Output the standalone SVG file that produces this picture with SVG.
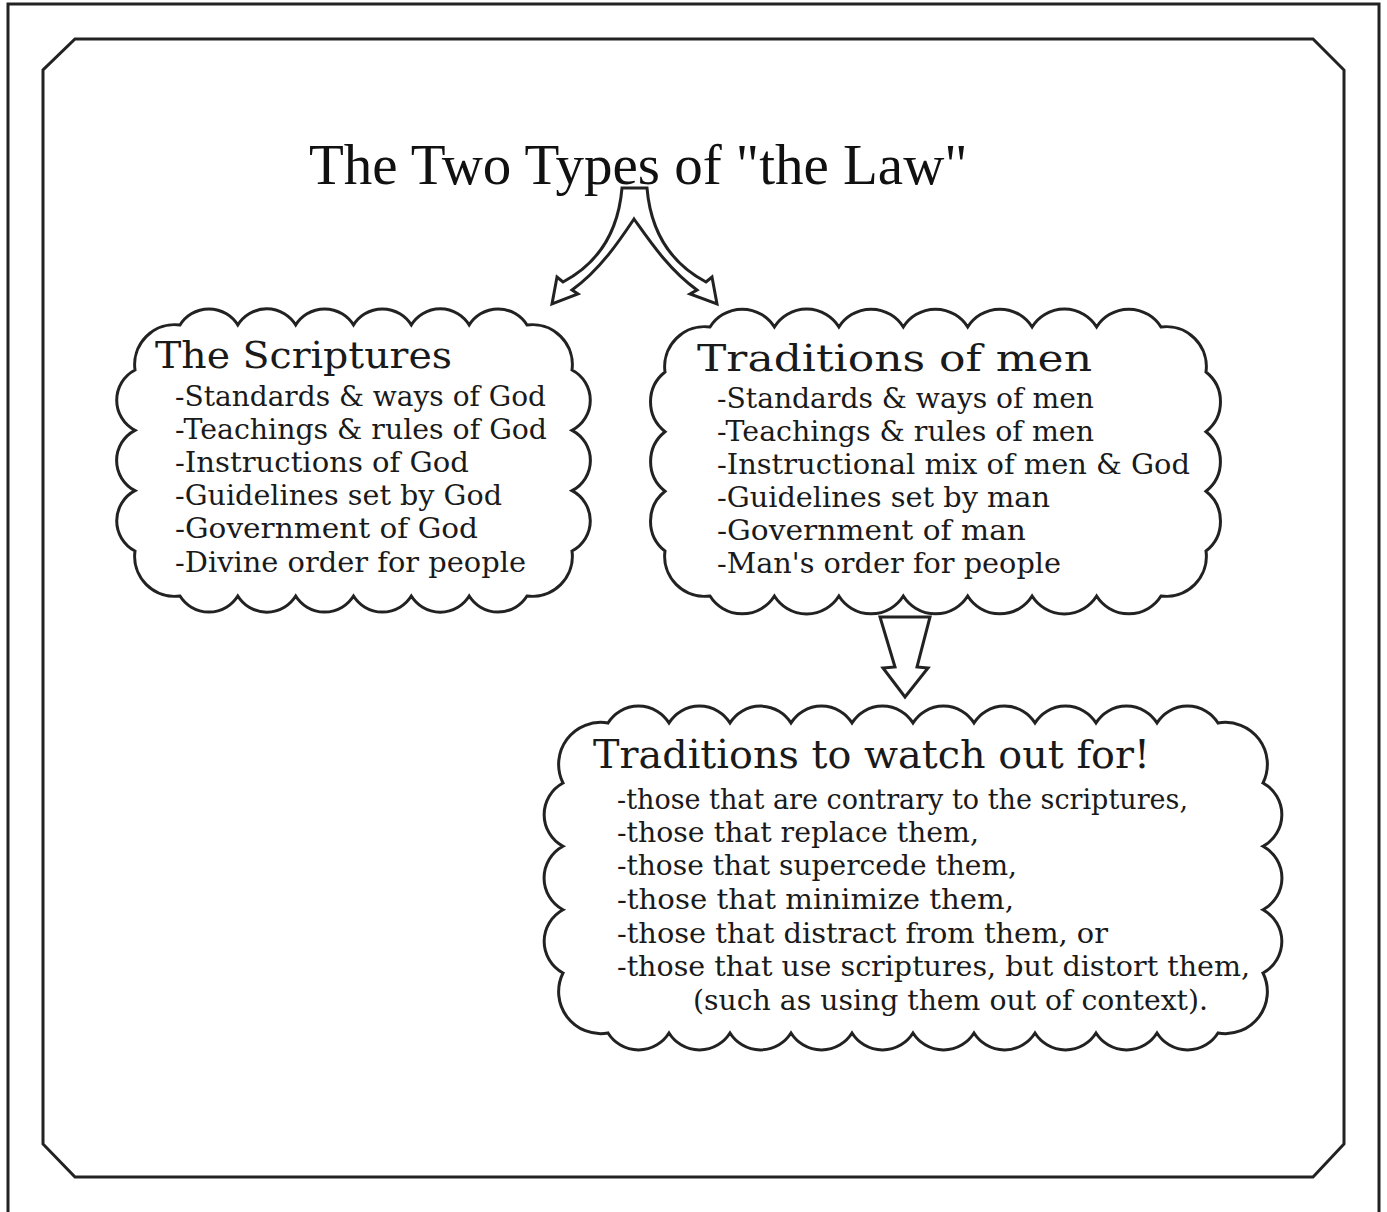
<svg xmlns="http://www.w3.org/2000/svg" width="1387" height="1212" viewBox="0 0 1387 1212">
<style>
.frame{fill:none;stroke:#222;stroke-width:3}
.shape{fill:#fff;stroke:#222;stroke-width:3;stroke-linejoin:miter}
.title{font-family:"Liberation Serif",serif;font-size:57px;fill:#111}
.head{font-family:"DejaVu Serif","Liberation Serif",serif;font-size:37px;fill:#1a1a1a}
.item{font-family:"DejaVu Serif","Liberation Serif",serif;font-size:27.5px;fill:#1a1a1a}
</style>
<rect width="1387" height="1212" fill="#fff"/>
<rect class="frame" x="8" y="4" width="1371" height="1230"/>
<path class="frame" d="M75 39 H1313 L1344 70 V1144 L1313 1177 H75 L43 1144 V70 Z"/>
<text class="title" x="309" y="184">The Two Types of "the Law"</text>
<g id="connectors">
<path class="shape" d="M622 188 H647 C651 235 674 265 706 282 L712 277 L717 304 L690 294 L697 290 C669 270 649 240 634 219 C620 240 600 270 572 290 L578 294 L552 304 L557 277 L563 282 C595 265 618 235 622 188 Z"/>
<path class="shape" d="M880 617 H930 L917 667 L928 668 L905 697 L883 668 L895 667 Z"/>
</g>
<g id="scriptures">
<path class="shape" d="M135 370 A40 40 0 0 1 180 325 A34 34 0 0 1 237.8 325 A34 34 0 0 1 295.7 325 A34 34 0 0 1 353.5 325 A34 34 0 0 1 411.3 325 A34 34 0 0 1 469.2 325 A34 34 0 0 1 527 325 A40 40 0 0 1 572 370 A34 34 0 0 1 572 430.3 A34 34 0 0 1 572 490.7 A34 34 0 0 1 572 551 A40 40 0 0 1 527 596 A34 34 0 0 1 469.2 596 A34 34 0 0 1 411.3 596 A34 34 0 0 1 353.5 596 A34 34 0 0 1 295.7 596 A34 34 0 0 1 237.8 596 A34 34 0 0 1 180 596 A40 40 0 0 1 135 551 A34 34 0 0 1 135 490.7 A34 34 0 0 1 135 430.3 A34 34 0 0 1 135 370 Z"/>
<text class="head" x="155" y="368" textLength="297" lengthAdjust="spacingAndGlyphs">The Scriptures</text>
<text class="item" x="175" y="406" textLength="371" lengthAdjust="spacingAndGlyphs">-Standards &amp; ways of God</text>
<text class="item" x="175" y="439" textLength="372" lengthAdjust="spacingAndGlyphs">-Teachings &amp; rules of God</text>
<text class="item" x="175" y="472" textLength="294" lengthAdjust="spacingAndGlyphs">-Instructions of God</text>
<text class="item" x="175" y="505" textLength="327" lengthAdjust="spacingAndGlyphs">-Guidelines set by God</text>
<text class="item" x="175" y="538" textLength="303" lengthAdjust="spacingAndGlyphs">-Government of God</text>
<text class="item" x="175" y="572" textLength="351" lengthAdjust="spacingAndGlyphs">-Divine order for people</text>
</g>
<g id="traditions">
<path class="shape" d="M665 372 A40 40 0 0 1 710 327 A38 38 0 0 1 774.4 327 A38 38 0 0 1 838.9 327 A38 38 0 0 1 903.3 327 A38 38 0 0 1 967.7 327 A38 38 0 0 1 1032.1 327 A38 38 0 0 1 1096.6 327 A38 38 0 0 1 1161 327 A40 40 0 0 1 1206 372 A38 38 0 0 1 1206 431.7 A38 38 0 0 1 1206 491.3 A38 38 0 0 1 1206 551 A40 40 0 0 1 1161 596 A38 38 0 0 1 1096.6 596 A38 38 0 0 1 1032.1 596 A38 38 0 0 1 967.7 596 A38 38 0 0 1 903.3 596 A38 38 0 0 1 838.9 596 A38 38 0 0 1 774.4 596 A38 38 0 0 1 710 596 A40 40 0 0 1 665 551 A38 38 0 0 1 665 491.3 A38 38 0 0 1 665 431.7 A38 38 0 0 1 665 372 Z"/>
<text class="head" x="697" y="371" textLength="395" lengthAdjust="spacingAndGlyphs">Traditions of men</text>
<text class="item" x="717" y="408" textLength="377" lengthAdjust="spacingAndGlyphs">-Standards &amp; ways of men</text>
<text class="item" x="717" y="441" textLength="377" lengthAdjust="spacingAndGlyphs">-Teachings &amp; rules of men</text>
<text class="item" x="717" y="474" textLength="473" lengthAdjust="spacingAndGlyphs">-Instructional mix of men &amp; God</text>
<text class="item" x="717" y="507" textLength="333" lengthAdjust="spacingAndGlyphs">-Guidelines set by man</text>
<text class="item" x="717" y="540" textLength="309" lengthAdjust="spacingAndGlyphs">-Government of man</text>
<text class="item" x="717" y="573" textLength="344" lengthAdjust="spacingAndGlyphs">-Man's order for people</text>
</g>
<g id="watch">
<path class="shape" d="M563 783 A42 42 0 0 1 608 723 A36 36 0 0 1 669 723 A36 36 0 0 1 730 723 A36 36 0 0 1 791 723 A36 36 0 0 1 852 723 A36 36 0 0 1 913 723 A36 36 0 0 1 974 723 A36 36 0 0 1 1035 723 A36 36 0 0 1 1096 723 A36 36 0 0 1 1157 723 A36 36 0 0 1 1218 723 A42 42 0 0 1 1263 783 A36 36 0 0 1 1263 846.3 A36 36 0 0 1 1263 909.7 A36 36 0 0 1 1263 973 A42 42 0 0 1 1218 1033 A36 36 0 0 1 1157 1033 A36 36 0 0 1 1096 1033 A36 36 0 0 1 1035 1033 A36 36 0 0 1 974 1033 A36 36 0 0 1 913 1033 A36 36 0 0 1 852 1033 A36 36 0 0 1 791 1033 A36 36 0 0 1 730 1033 A36 36 0 0 1 669 1033 A36 36 0 0 1 608 1033 A42 42 0 0 1 563 973 A36 36 0 0 1 563 909.7 A36 36 0 0 1 563 846.3 A36 36 0 0 1 563 783 Z"/>
<text class="head" x="593" y="768" style="font-size:39px" textLength="557" lengthAdjust="spacingAndGlyphs">Traditions to watch out for!</text>
<text class="item" x="617" y="809" textLength="571" lengthAdjust="spacingAndGlyphs">-those that are contrary to the scriptures,</text>
<text class="item" x="617" y="842" textLength="362" lengthAdjust="spacingAndGlyphs">-those that replace them,</text>
<text class="item" x="617" y="875" textLength="400" lengthAdjust="spacingAndGlyphs">-those that supercede them,</text>
<text class="item" x="617" y="909" textLength="397" lengthAdjust="spacingAndGlyphs">-those that minimize them,</text>
<text class="item" x="617" y="943" textLength="491" lengthAdjust="spacingAndGlyphs">-those that distract from them, or</text>
<text class="item" x="617" y="976" textLength="633" lengthAdjust="spacingAndGlyphs">-those that use scriptures, but distort them,</text>
<text class="item" x="693" y="1010" textLength="515" lengthAdjust="spacingAndGlyphs">(such as using them out of context).</text>
</g>
</svg>
